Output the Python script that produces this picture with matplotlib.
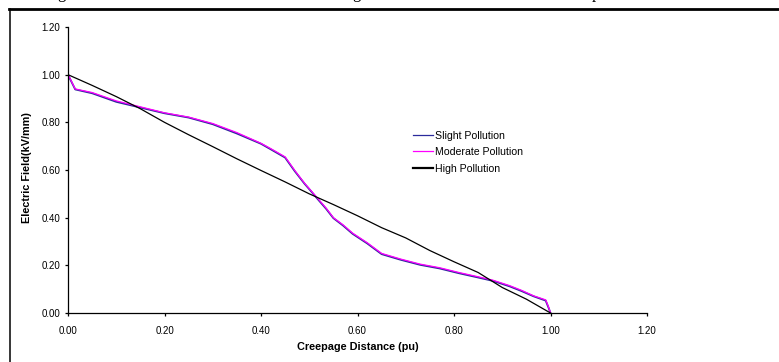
import matplotlib
matplotlib.use('Agg')
import matplotlib.pyplot as plt
from matplotlib.lines import Line2D

plt.rcParams['font.family'] = ['Liberation Sans', 'DejaVu Sans']

# creepage distance (pu) and field (kV/mm)
x_mod = [0.0, 0.004, 0.015, 0.05, 0.1, 0.15, 0.2, 0.25, 0.3, 0.35, 0.4, 0.42, 0.45,
         0.47, 0.49, 0.505, 0.52, 0.535, 0.55, 0.57, 0.59, 0.62, 0.65, 0.69, 0.73,
         0.77, 0.81, 0.85, 0.88, 0.915, 0.94, 0.965, 0.99, 0.996, 1.0]
y_mod = [1.0, 0.985, 0.94, 0.925, 0.89, 0.865, 0.84, 0.822, 0.795, 0.757, 0.712, 0.69,
         0.655, 0.598, 0.545, 0.51, 0.475, 0.44, 0.40, 0.37, 0.335, 0.295, 0.25, 0.226,
         0.205, 0.19, 0.17, 0.152, 0.138, 0.115, 0.095, 0.072, 0.055, 0.025, 0.0]
y_slight = [1.0, 0.983, 0.938, 0.922, 0.886, 0.862, 0.838, 0.82, 0.792, 0.753, 0.71,
            0.687, 0.652, 0.595, 0.543, 0.508, 0.472, 0.437, 0.398, 0.367, 0.332, 0.292,
            0.247, 0.223, 0.202, 0.187, 0.167, 0.149, 0.135, 0.112, 0.092, 0.07, 0.052,
            0.022, 0.0]

x_high = [0.0, 0.05, 0.1, 0.15, 0.2, 0.25, 0.3, 0.35, 0.4, 0.45, 0.5, 0.55, 0.6,
          0.65, 0.7, 0.75, 0.8, 0.85, 0.9, 0.95, 1.0]
y_high = [1.0, 0.955, 0.908, 0.857, 0.80, 0.748, 0.698, 0.647, 0.598, 0.55, 0.50,
          0.455, 0.408, 0.358, 0.315, 0.262, 0.215, 0.17, 0.107, 0.058, 0.0]

ticks = [0.0, 0.2, 0.4, 0.6, 0.8, 1.0, 1.2]

W, H = 779, 362
fig = plt.figure(figsize=(W / 100, H / 100), dpi=100)
ax = fig.add_axes([68 / W, 1 - 313 / H, 579 / W, 286 / H])

ax.plot(x_mod, y_slight, color='#2b2b9c', lw=1.3, label='Slight Pollution')
ax.plot(x_mod, y_mod, color='#ff00ff', lw=0.9, label='Moderate Pollution')
ax.plot(x_high, y_high, color='black', lw=0.9, label='High Pollution')

ax.set_xlim(0, 1.2)
ax.set_ylim(0, 1.2)
ax.set_xticks(ticks)
ax.set_yticks(ticks)
ax.set_xticklabels([f'{t:.2f}' for t in ticks])
ax.set_yticklabels([f'{t:.2f}' for t in ticks])
for s in ['top', 'right']:
    ax.spines[s].set_visible(False)
for s in ['left', 'bottom']:
    ax.spines[s].set_linewidth(0.9)
ax.tick_params(axis='both', direction='out', length=2.5, width=0.9, labelsize=7)
ax.tick_params(axis='x', pad=7)
ax.tick_params(axis='y', pad=3)

ax.set_xlabel('Creepage Distance (pu)', fontsize=7.8, fontweight='bold')
ax.set_ylabel('Electric Field(kV/mm)', fontsize=7.8, fontweight='bold')
ax.xaxis.set_label_coords(0.5, -0.1)
ax.yaxis.set_label_coords(-0.063, 0.51)

leg = ax.legend(loc='upper left', bbox_to_anchor=(0.596, 0.638), frameon=False,
                fontsize=7.6, borderpad=0, borderaxespad=0, handlelength=1.85,
                handletextpad=0.2, labelspacing=0.62)
leg.get_lines()[0].set_linewidth(0.9)
leg.get_lines()[2].set_linewidth(1.6)

# page frame from the scanned document
fig.add_artist(Line2D([9 / W, 1], [1 - 8.7 / H, 1 - 8.7 / H], color='black', lw=2.0))
fig.add_artist(Line2D([10 / W, 10 / W], [0, 1 - 9 / H], color='black', lw=1.1))

# clipped caption descenders above the frame
for xp, ch in [(57, 'g'), (352, 'g'), (592, 'p')]:
    fig.text(xp / W, 1 + 2 / H, ch, family='Liberation Serif', fontsize=12,
             va='baseline', ha='left')

fig.savefig('out.png', dpi=100)
